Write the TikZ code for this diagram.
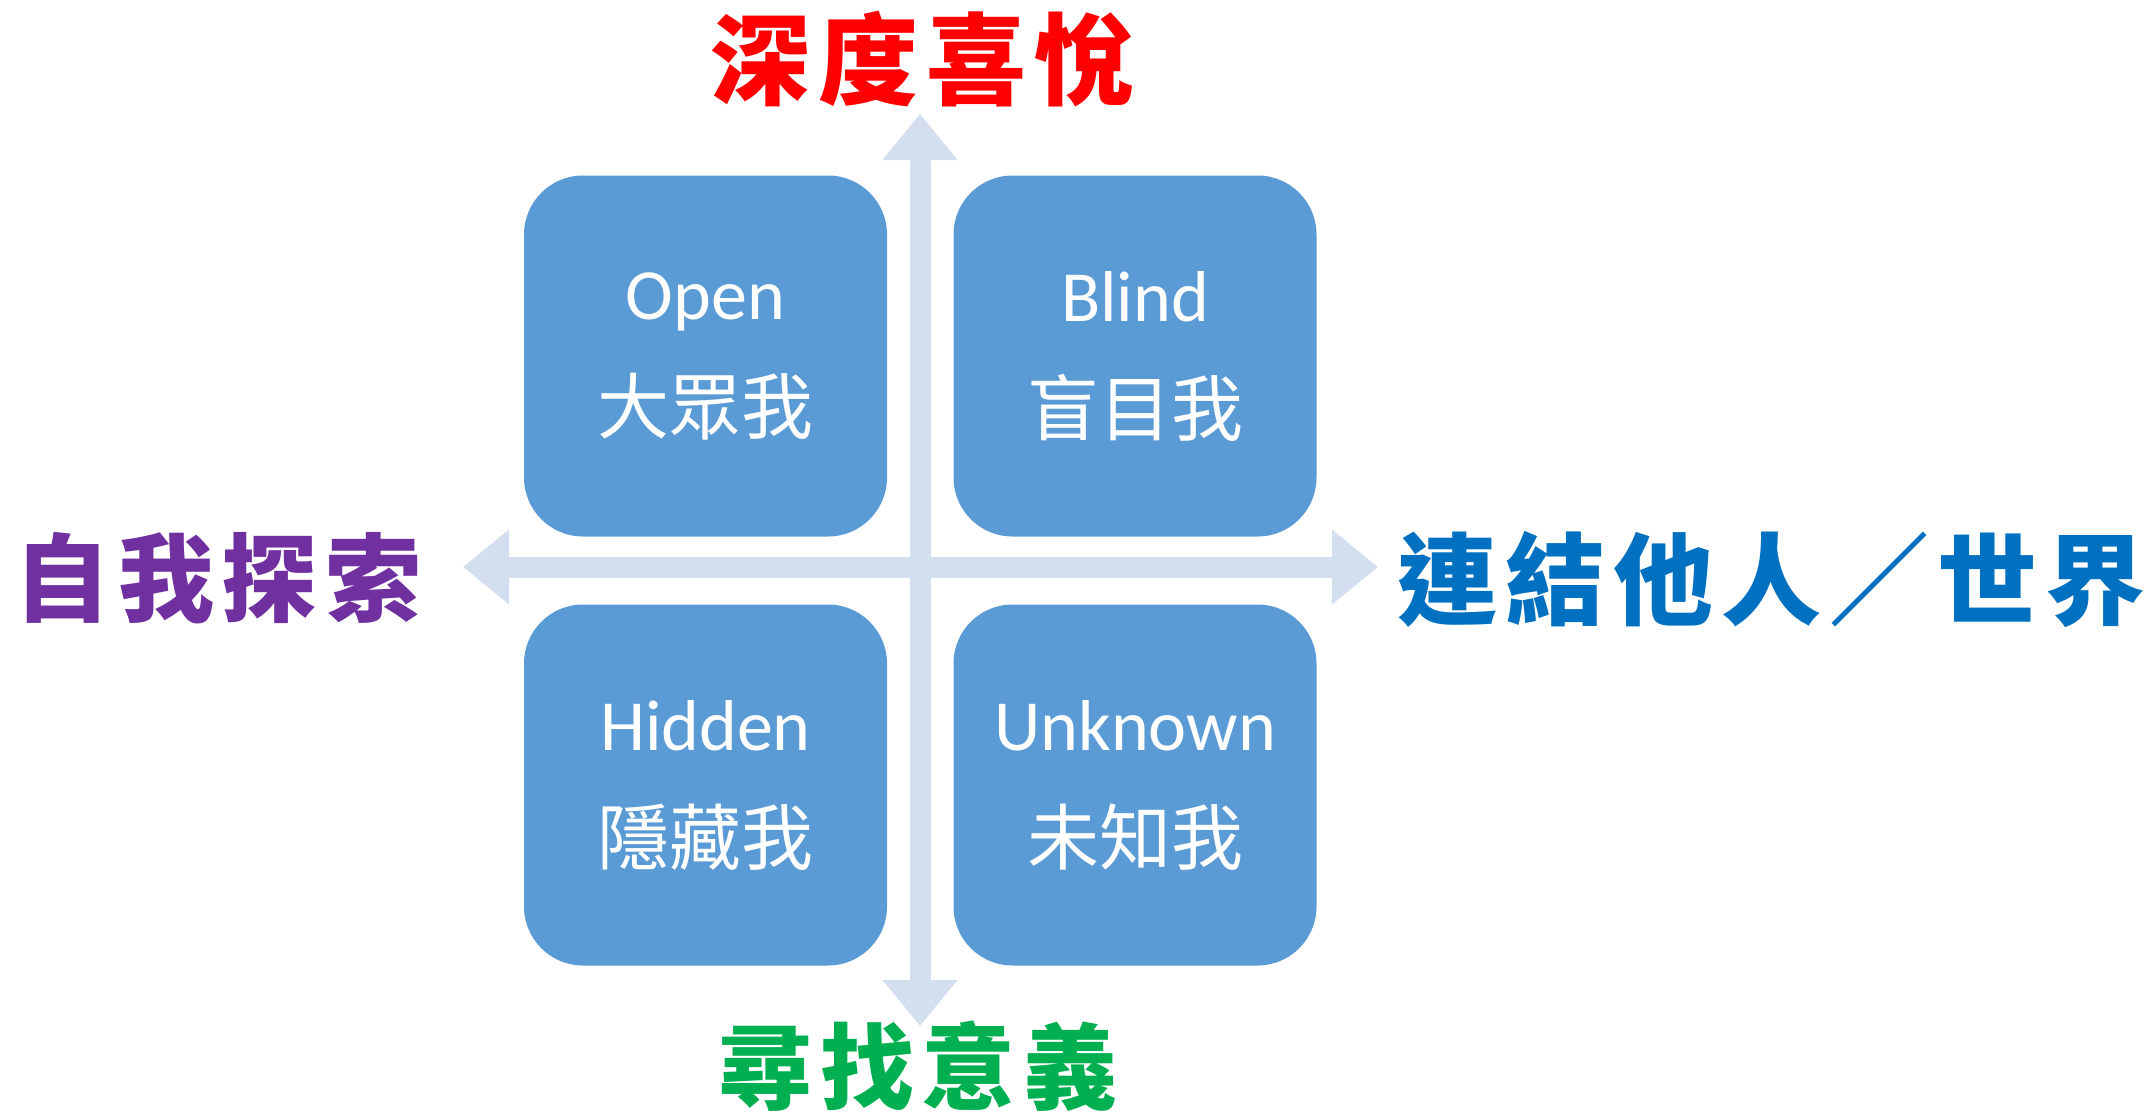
\documentclass[tikz,border=0pt]{standalone}
\usepackage{fontspec}
\setmainfont{Carlito}
\newfontfamily\cjk{Noto Sans CJK TC}
\newfontfamily\cjklabel{Noto Sans CJK TC}[LetterSpace=8]
\usetikzlibrary{arrows.meta}
\definecolor{boxblue}{HTML}{5B9BD5}
\definecolor{axiscol}{HTML}{D3DEEF}
\definecolor{lblred}{HTML}{FF0000}
\definecolor{lblpurple}{HTML}{7030A0}
\definecolor{lblblue}{HTML}{0070C0}
\definecolor{lblgreen}{HTML}{00B050}
\begin{document}
\begin{tikzpicture}[x=1pt,y=-1pt,
  quad/.style={fill=boxblue, rounded corners=59pt, minimum width=363pt, minimum height=361pt,
    text=white, align=center, font=\fontsize{72}{114}\selectfont, inner sep=0pt},
  axis/.style={draw=axiscol, line width=21pt,
    {Triangle[width=72pt,length=46pt]}-{Triangle[width=72pt,length=46pt]}},
  axlabel/.style={font=\cjklabel\bfseries\fontsize{100}{110}\selectfont, inner sep=0pt}
]
\path[use as bounding box, fill=white] (0,0) rectangle (2156,1117);
\coordinate (ytop) at (920,114);
\coordinate (ybot) at (920,1026);
\coordinate (xleft) at (463,567);
\coordinate (xright) at (1378,567);
\draw[axis] (ybot) -- (ytop);
\draw[axis] (xleft) -- (xright);
\node[quad] (open) at (705.5,356) {Open\\{\cjk 大眾我}};
\node[quad] (blind) at (1135,356) {Blind\\{\cjk 盲目我}};
\node[quad] (hidden) at (705.5,785) {Hidden\\{\cjk 隱藏我}};
\node[quad] (unknown) at (1135,785) {Unknown\\{\cjk 未知我}};
\node[axlabel, text=lblred] (deep) at (922,59) {深度喜悅};
\node[axlabel, text=lblpurple, font=\cjklabel\bfseries\fontsize{96}{106}\selectfont] (self) at (218,578) {自我探索};
\node[axlabel, text=lblblue] (world) at (1771,579) {連結他人／世界};
\node[axlabel, text=lblgreen, font=\cjklabel\bfseries\fontsize{94}{104}\selectfont] (meaning) at (918,1066) {尋找意義};
\end{tikzpicture}
\end{document}
